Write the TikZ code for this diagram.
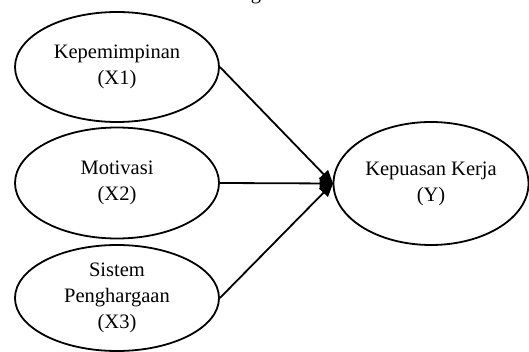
\documentclass[tikz,border=0pt]{standalone}
\usepackage{fontspec}
\setmainfont{Liberation Serif}
\usetikzlibrary{shapes.geometric,arrows.meta}
\tikzset{
  var/.style={ellipse, draw, line width=1.8pt, inner sep=0pt, align=center,
    font=\fontsize{20.5}{26}\selectfont},
  link/.style={line width=1.8pt, -{Triangle[length=14pt,width=12pt]}, shorten >=-1pt}
}
\begin{document}
\begin{tikzpicture}[x=1pt,y=-1pt]
\useasboundingbox (0,0) rectangle (529,352);
\node[var, minimum width=204pt, minimum height=110pt] (x1) at (117,67) {Kepemimpinan\\(X1)};
\node[var, minimum width=204pt, minimum height=111pt] (x2) at (117,183) {Motivasi\\(X2)};
\node[var, minimum width=204pt, minimum height=106pt] (x3) at (117,298) {Sistem\\Penghargaan\\(X3)};
\node[var, minimum width=195pt, minimum height=123pt] (y) at (431,183.5) {Kepuasan Kerja\\(Y)};
\node[anchor=base, inner sep=0pt, font=\fontsize{20.5}{26}\selectfont] (cap) at (256,0) {g};
\draw[link] (x1.east) -- (y.west);
\draw[link] (x2.east) -- (y.west);
\draw[link] (x3.east) -- (y.west);
\end{tikzpicture}
\end{document}
